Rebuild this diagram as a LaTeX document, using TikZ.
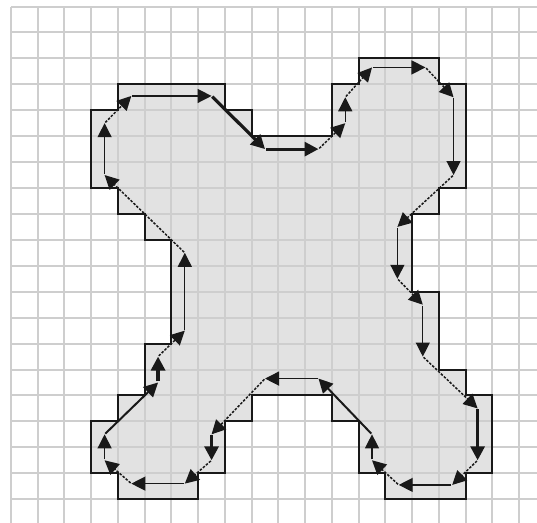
\documentclass[tikz,border=0pt]{standalone}
\usetikzlibrary{arrows.meta}
\definecolor{gridc}{RGB}{206,206,206}
\definecolor{fillc}{RGB}{226,226,226}
\definecolor{inkc}{RGB}{25,25,25}
\tikzset{
  gridline/.style={gridc, line width=2pt},
  stair/.style={inkc, line width=2pt, line join=miter},
  arr/.style={-{Triangle[length=14pt,width=14pt]}, inkc, shorten <=1pt},
  thinseg/.style={arr, line width=1.3pt},
  midseg/.style={arr, line width=2pt},
  thickseg/.style={arr, line width=3.2pt},
  dotseg/.style={arr, line width=1.5pt, dash pattern=on 2.5pt off 1.5pt}
}
\begin{document}
\begin{tikzpicture}[x=1pt,y=-1pt]
\useasboundingbox (0,0) rectangle (537,522);
\fill[white] (0,0) rectangle (537,522);
\clip (0,0) rectangle (537,522);
\begin{scope}[shift={(11,6.5)}, x=26.74pt, y=-25.93pt]
  % pixel region
  \fill[fillc] (4,3) -- (8,3) -- (8,4) -- (9,4) -- (9,5) -- (12,5) -- (12,3) -- (13,3) -- (13,2) -- (16,2) -- (16,3) -- (17,3) -- (17,7) -- (16,7) -- (16,8) -- (15,8) -- (15,11) -- (16,11) -- (16,14) -- (17,14) -- (17,15) -- (18,15) -- (18,18) -- (17,18) -- (17,19) -- (14,19) -- (14,18) -- (13,18) -- (13,16) -- (12,16) -- (12,15) -- (9,15) -- (9,16) -- (8,16) -- (8,18) -- (7,18) -- (7,19) -- (4,19) -- (4,18) -- (3,18) -- (3,16) -- (4,16) -- (4,15) -- (5,15) -- (5,13) -- (6,13) -- (6,9) -- (5,9) -- (5,8) -- (4,8) -- (4,7) -- (3,7) -- (3,4) -- (4,4) -- cycle;
  % grid
  \foreach \i in {0,...,20} \draw[gridline] (\i,0) -- (\i,20);
  \foreach \j in {0,...,19} \draw[gridline] (0,\j) -- (20,\j);
  % outline of the pixel region
  \draw[stair] (4,3) -- (8,3) -- (8,4) -- (9,4) -- (9,5) -- (12,5) -- (12,3) -- (13,3) -- (13,2) -- (16,2) -- (16,3) -- (17,3) -- (17,7) -- (16,7) -- (16,8) -- (15,8) -- (15,11) -- (16,11) -- (16,14) -- (17,14) -- (17,15) -- (18,15) -- (18,18) -- (17,18) -- (17,19) -- (14,19) -- (14,18) -- (13,18) -- (13,16) -- (12,16) -- (12,15) -- (9,15) -- (9,16) -- (8,16) -- (8,18) -- (7,18) -- (7,19) -- (4,19) -- (4,18) -- (3,18) -- (3,16) -- (4,16) -- (4,15) -- (5,15) -- (5,13) -- (6,13) -- (6,9) -- (5,9) -- (5,8) -- (4,8) -- (4,7) -- (3,7) -- (3,4) -- (4,4) -- cycle;
  % contour vertices
  \coordinate (c1) at (3.5,6.5);
  \coordinate (c2) at (3.5,4.5);
  \coordinate (c3) at (4.5,3.45);
  \coordinate (c4) at (7.5,3.45);
  \coordinate (c5) at (9.5,5.5);
  \coordinate (c6) at (11.5,5.5);
  \coordinate (c7) at (12.5,4.5);
  \coordinate (c8) at (12.5,3.5);
  \coordinate (c9) at (13.5,2.35);
  \coordinate (c10) at (15.5,2.35);
  \coordinate (c11) at (16.55,3.5);
  \coordinate (c12) at (16.55,6.5);
  \coordinate (c13) at (14.45,8.5);
  \coordinate (c14) at (14.45,10.5);
  \coordinate (c15) at (15.4,11.5);
  \coordinate (c16) at (15.4,13.5);
  \coordinate (c17) at (17.45,15.5);
  \coordinate (c18) at (17.45,17.5);
  \coordinate (c19) at (16.5,18.45);
  \coordinate (c20) at (14.5,18.45);
  \coordinate (c21) at (13.5,17.5);
  \coordinate (c22) at (13.5,16.5);
  \coordinate (c23) at (11.5,14.35);
  \coordinate (c24) at (9.5,14.35);
  \coordinate (c25) at (7.5,16.5);
  \coordinate (c26) at (7.5,17.5);
  \coordinate (c27) at (6.5,18.4);
  \coordinate (c28) at (4.5,18.4);
  \coordinate (c29) at (3.5,17.5);
  \coordinate (c30) at (3.5,16.5);
  \coordinate (c31) at (5.5,14.5);
  \coordinate (c32) at (5.5,13.5);
  \coordinate (c33) at (6.5,12.5);
  \coordinate (c34) at (6.5,9.5);
  % contour segments
  \draw[thinseg]  (c1) -- (c2);
  \draw[dotseg]   (c2) -- (c3);
  \draw[thinseg]  (c3) -- (c4);
  \draw[thickseg] (c4) -- (c5);
  \draw[thickseg] (c5) -- (c6);
  \draw[dotseg]   (c6) -- (c7);
  \draw[thinseg]  (c7) -- (c8);
  \draw[dotseg]   (c8) -- (c9);
  \draw[thinseg]  (c9) -- (c10);
  \draw[dotseg]   (c10) -- (c11);
  \draw[thinseg]  (c11) -- (c12);
  \draw[dotseg]   (c12) -- (c13);
  \draw[thinseg]  (c13) -- (c14);
  \draw[dotseg]   (c14) -- (c15);
  \draw[thinseg]  (c15) -- (c16);
  \draw[dotseg]   (c16) -- (c17);
  \draw[thickseg] (c17) -- (c18);
  \draw[dotseg]   (c18) -- (c19);
  \draw[thinseg]  (c19) -- (c20);
  \draw[dotseg]   (c20) -- (c21);
  \draw[thinseg]  (c21) -- (c22);
  \draw[midseg]   (c22) -- (c23);
  \draw[thinseg]  (c23) -- (c24);
  \draw[dotseg]   (c24) -- (c25);
  \draw[thickseg] (c25) -- (c26);
  \draw[dotseg]   (c26) -- (c27);
  \draw[thinseg]  (c27) -- (c28);
  \draw[dotseg]   (c28) -- (c29);
  \draw[thinseg]  (c29) -- (c30);
  \draw[midseg]   (c30) -- (c31);
  \draw[thickseg] (c31) -- (c32);
  \draw[dotseg]   (c32) -- (c33);
  \draw[thinseg]  (c33) -- (c34);
  \draw[dotseg]   (c34) -- (c1);
\end{scope}
\end{tikzpicture}
\end{document}
